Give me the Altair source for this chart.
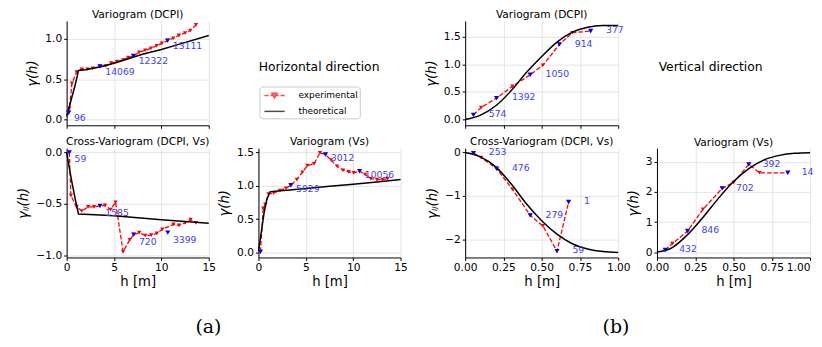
import altair as alt
import pandas as pd

FONT = "DejaVu Sans"

# ---------------- data: (a) horizontal direction ----------------
aTL_exp_h = [0.21, 0.30, 0.56, 1.05, 1.60, 2.20, 2.76, 3.52, 4.10, 4.70, 5.30, 5.95, 6.50, 7.05,
             7.65, 8.30, 8.90, 9.50, 10.05, 10.65, 11.25, 11.85, 12.50, 13.05, 13.65]
aTL_exp_g = [0.086, 0.14, 0.45, 0.59, 0.625, 0.625, 0.635, 0.66, 0.665, 0.70, 0.72, 0.74, 0.77, 0.79,
             0.835, 0.86, 0.885, 0.915, 0.945, 0.98, 1.01, 1.045, 1.075, 1.105, 1.175]
aTL_blue_h = [0.21, 3.52, 7.05, 10.65]
aTL_blue_g = [0.086, 0.66, 0.79, 0.98]
aTL_blue_n = ["96", "14069", "12322", "13111"]
aTL_theo_h = [0.0, 0.3, 0.6, 0.9, 1.1, 1.25, 2.0, 2.5, 3.5, 5.0, 6.5, 8.0, 10.0, 12.0, 15.0]
aTL_theo_g = [0.04, 0.17, 0.30, 0.43, 0.53, 0.61, 0.62, 0.632, 0.652, 0.70, 0.755, 0.81, 0.87, 0.94, 1.043]

aBL_exp_h = [0.28, 0.45, 1.05, 1.60, 2.27, 2.90, 3.52, 4.05, 4.64, 5.16, 5.96, 6.66, 7.08, 7.67,
             8.30, 8.93, 9.52, 10.10, 11.27, 11.86, 12.50, 13.08, 13.64]
aBL_exp_g = [0.0, -0.42, -0.53, -0.57, -0.53, -0.53, -0.52, -0.515, -0.555, -0.485, -0.965, -0.85, -0.80,
             -0.78, -0.81, -0.805, -0.787, -0.748, -0.70, -0.71, -0.685, -0.652, -0.685]
aBL_blue_h = [0.28, 3.52, 7.08, 10.67]
aBL_blue_g = [0.0, -0.52, -0.80, -0.78]
aBL_blue_n = ["59", "1585", "720", "3399"]
aBL_theo_h = [0.0, 0.3, 0.6, 0.9, 1.25, 3.0, 5.0, 7.5, 10.0, 12.5, 15.0]
aBL_theo_g = [0.0, -0.16, -0.31, -0.45, -0.60, -0.607, -0.617, -0.635, -0.655, -0.672, -0.69]

aBR_exp_h = [0.21, 0.50, 0.72, 1.05, 1.60, 2.27, 2.90, 3.42, 4.05, 4.64, 5.16, 5.86, 6.49, 7.08,
             7.67, 8.30, 8.93, 9.52, 10.05, 10.67, 11.27, 11.86, 12.50, 13.08, 13.64]
aBR_exp_g = [0.01, 0.66, 0.72, 0.875, 0.89, 0.925, 0.96, 1.005, 1.09, 1.20, 1.30, 1.325, 1.49, 1.465,
             1.38, 1.29, 1.23, 1.205, 1.19, 1.215, 1.165, 1.105, 1.09, 1.09, 1.105]
aBR_blue_h = [0.21, 3.42, 7.08, 10.67]
aBR_blue_g = [0.01, 1.005, 1.465, 1.215]
aBR_blue_n = ["", "5929", "3012", "10056"]
aBR_theo_h = [0.0, 0.3, 0.6, 0.9, 1.25, 3.0, 5.0, 7.5, 10.0, 12.5, 15.0]
aBR_theo_g = [0.02, 0.30, 0.60, 0.80, 0.91, 0.93, 0.955, 0.99, 1.02, 1.055, 1.09]

# ---------------- data: (b) vertical direction ----------------
bTL_exp_h = [0.054, 0.104, 0.205, 0.309, 0.425, 0.508, 0.616, 0.70, 0.82]
bTL_exp_g = [0.086, 0.217, 0.389, 0.60, 0.81, 0.983, 1.36, 1.57, 1.60]
bTL_blue_h = [0.054, 0.205, 0.425, 0.616, 0.82]
bTL_blue_g = [0.086, 0.389, 0.81, 1.36, 1.60]
bTL_blue_n = ["574", "1392", "1050", "914", "377"]

bBL_exp_h = [0.054, 0.104, 0.205, 0.309, 0.425, 0.508, 0.60, 0.676]
bBL_exp_g = [-0.015, -0.115, -0.37, -0.846, -1.446, -1.69, -2.27, -1.14]
bBL_blue_h = [0.054, 0.205, 0.425, 0.60, 0.676]
bBL_blue_g = [-0.015, -0.37, -1.446, -2.27, -1.14]
bBL_blue_n = ["253", "476", "279", "59", "1"]

bBR_exp_h = [0.054, 0.10, 0.20, 0.30, 0.426, 0.50, 0.60, 0.67, 0.855]
bBR_exp_g = [0.067, 0.28, 0.70, 1.42, 2.12, 2.31, 2.92, 2.64, 2.64]
bBR_blue_h = [0.054, 0.20, 0.426, 0.60, 0.855]
bBR_blue_g = [0.067, 0.70, 2.12, 2.92, 2.64]
bBR_blue_n = ["432", "846", "702", "392", "14"]

b_theo_h = [0.0, 0.1, 0.2, 0.3, 0.4, 0.5, 0.6, 0.7, 0.8, 0.9, 1.0]
bTL_theo_g = [0.0, 0.08, 0.25, 0.52, 0.85, 1.14, 1.40, 1.58, 1.67, 1.70, 1.70]
bBL_theo_g = [0.0, -0.10, -0.33, -0.72, -1.18, -1.57, -1.88, -2.10, -2.22, -2.28, -2.30]
bBR_theo_g = [0.0, 0.15, 0.58, 1.15, 1.78, 2.35, 2.78, 3.07, 3.22, 3.29, 3.31]

SERIES = ["experimental", "theoretical"]
SERIES_STROKE = ["red", "black"]
SERIES_FILL = ["red", "transparent"]
# legend symbols: dashed line with a triangle marker / solid line
SERIES_SHAPE = ["M-1.7,0H-1.0M-0.7,0H0.7M1.0,0H1.7M-0.45,-0.38H0.45L0,0.42Z", "M-1.7,0H1.7"]


def make_legend(lx, ly):
    return alt.Legend(
        title=None, orient="none", legendX=lx, legendY=ly, direction="vertical",
        labelFont=FONT, labelFontSize=9, labelColor="black",
        symbolSize=144, symbolStrokeWidth=1.5, symbolOffset=6.2, labelOffset=17,
        rowPadding=3, padding=2, strokeColor="#cccccc", fillColor="white", cornerRadius=3,
    )


def panel(exp_h, exp_g, blue_h, blue_g, blue_n, theo_h, theo_g, *, title, ytitle,
          xdom, ydom, xticks, xfmt, yticks, yfmt, plot_w, chart_w, height, xlabels,
          ldx, ldy, toff, legend=None, extra=None, interp="linear", last_right=False):
    theo = pd.DataFrame({"h": theo_h, "g": theo_g})
    exp = pd.DataFrame({"h": exp_h, "g": exp_g})
    blue = pd.DataFrame({"h": blue_h, "g": blue_g, "n": blue_n})
    xaxis_kw = dict(values=xticks, format=xfmt, labels=xlabels, grid=True, tickSize=3,
                    labelPadding=2, titlePadding=3, labelFlush=False, labelOverlap=False)
    if last_right:
        xaxis_kw["labelAlign"] = alt.condition(f"datum.value >= {xdom[1]}", alt.value("right"),
                                               alt.value("center"))
    x = alt.X("h:Q",
              scale=alt.Scale(domain=xdom, range=[0, plot_w], nice=False, zero=False),
              axis=alt.Axis(**xaxis_kw),
              title="h [m]" if xlabels else None)
    y = alt.Y("g:Q",
              scale=alt.Scale(domain=ydom, nice=False, zero=False),
              axis=alt.Axis(values=yticks, format=yfmt, grid=True, tickSize=3, labelPadding=2,
                            titlePadding=5, labelFlush=False, labelOverlap=False),
              title=ytitle)
    exp_line = alt.Chart(exp).mark_line(color="red", strokeWidth=1.3, strokeDash=[4.5, 2]).encode(x=x, y=y)
    theo_line = alt.Chart(theo).mark_line(color="black", strokeWidth=1.5, interpolate=interp).encode(x=x, y=y)
    exp_pts = alt.Chart(exp).mark_point(shape="triangle-down", filled=True, color="red", size=18,
                                        opacity=1).encode(x=x, y=y)
    blue_pts = alt.Chart(blue).mark_point(shape="triangle-down", filled=True, color="blue", size=26,
                                          opacity=1).encode(x=x, y=y)
    labels = alt.Chart(blue).mark_text(align="left", baseline="middle", dx=ldx, dy=ldy, font=FONT,
                                       fontSize=9.3, color="#3c3cff").encode(x=x, y=y, text="n:N")
    layers = [exp_line, exp_pts, theo_line, blue_pts, labels]
    if legend is not None:
        empty = pd.DataFrame({"h": pd.Series([], dtype=float), "g": pd.Series([], dtype=float),
                              "series": pd.Series([], dtype=str)})
        key = alt.Chart(empty).mark_point(filled=True).encode(
            x=x, y=y,
            fill=alt.Fill("series:N", scale=alt.Scale(domain=SERIES, range=SERIES_FILL), legend=legend),
            stroke=alt.Stroke("series:N", scale=alt.Scale(domain=SERIES, range=SERIES_STROKE), legend=legend),
            shape=alt.Shape("series:N", scale=alt.Scale(domain=SERIES, range=SERIES_SHAPE), legend=legend),
        )
        layers.append(key)
    if extra is not None:
        layers.append(extra)
    return alt.layer(*layers).properties(
        width=chart_w, height=height,
        title=alt.TitleParams(title, frame="group", anchor="middle", dx=-(chart_w - plot_w) / 2,
                              offset=toff, baseline="alphabetic", fontSize=10.7, fontWeight="normal",
                              font=FONT, color="black"),
    )


def text_cell(label, cx, cy, w, h):
    return alt.Chart(pd.DataFrame({"t": [label]})).mark_text(
        font=FONT, fontSize=12.4, color="black", align="center", baseline="middle"
    ).encode(text="t:N", x=alt.value(cx), y=alt.value(cy)).properties(width=w, height=h)


def corner_label(label, cx, cy):
    return alt.Chart(pd.DataFrame({"t": [label]})).mark_text(
        font="DejaVu Serif", fontSize=19, color="black", align="center", baseline="middle"
    ).encode(text="t:N", x=alt.value(cx), y=alt.value(cy))


H1, H2 = 105, 110
T1, T2 = -8, -9
A_X = dict(xdom=[0, 15], xticks=[0, 5, 10, 15], xfmt="d", plot_w=143, ldx=5.3)
B_X = dict(xdom=[0, 1], xticks=[0, 0.25, 0.5, 0.75, 1.0], xfmt=".2f", plot_w=154, ldy=-0.7,
           interp="monotone")

aTL = panel(aTL_exp_h, aTL_exp_g, aTL_blue_h, aTL_blue_g, aTL_blue_n, aTL_theo_h, aTL_theo_g,
            title="Variogram (DCPI)", ytitle="γ(h)", ydom=[-0.07, 1.224], yticks=[0, 0.5, 1.0],
            yfmt=".1f", chart_w=193, height=H1, xlabels=False, ldy=5.5, toff=T1,
            legend=make_legend(194, 66), **A_X)
aBL = panel(aBL_exp_h, aBL_exp_g, aBL_blue_h, aBL_blue_g, aBL_blue_n, aBL_theo_h, aBL_theo_g,
            title="Cross-Variogram (DCPI, Vs)", ytitle="γᵢⱼ(h)", ydom=[-1.022, 0.042],
            yticks=[-1.0, -0.5, 0.0], yfmt=".1f", chart_w=193, height=H2, xlabels=True, ldy=7, toff=T2,
            extra=corner_label("(a)", 142.7, 180), **A_X)
aBR = panel(aBR_exp_h, aBR_exp_g, aBR_blue_h, aBR_blue_g, aBR_blue_n, aBR_theo_h, aBR_theo_g,
            title="Variogram (Vs)", ytitle="γ(h)", ydom=[-0.075, 1.56], yticks=[0, 0.5, 1.0, 1.5],
            yfmt=".1f", chart_w=208, height=H2, xlabels=True, ldy=4, toff=T2, **A_X)
bTL = panel(bTL_exp_h, bTL_exp_g, bTL_blue_h, bTL_blue_g, bTL_blue_n, b_theo_h, bTL_theo_g,
            title="Variogram (DCPI)", ytitle="γ(h)", ydom=[-0.103, 1.783], yticks=[0, 0.5, 1.0, 1.5],
            yfmt=".1f", chart_w=193, height=H1, xlabels=False, toff=T1, ldx=15.5,
            legend=make_legend(213, 66), **B_X)
bBL = panel(bBL_exp_h, bBL_exp_g, bBL_blue_h, bBL_blue_g, bBL_blue_n, b_theo_h, bBL_theo_g,
            title="Cross-Variogram (DCPI, Vs)", ytitle="γᵢⱼ(h)", ydom=[-2.416, 0.1],
            yticks=[-2, -1, 0], yfmt="d", chart_w=193, height=H2, xlabels=True, toff=T2, ldx=15.5,
            extra=corner_label("(b)", 151.7, 180), **B_X)
bBR = panel(bBR_exp_h, bBR_exp_g, bBR_blue_h, bBR_blue_g, bBR_blue_n, b_theo_h, bBR_theo_g,
            title="Variogram (Vs)", ytitle="γ(h)", ydom=[-0.18, 3.46], yticks=[0, 1, 2, 3],
            yfmt="d", chart_w=154, height=H2, xlabels=True, toff=T2, ldx=14, last_right=True, **B_X)

textA = text_cell("Horizontal direction", 61, 46, 208, H1)
textB = text_cell("Vertical direction", 54, 46, 154, H1)

chart = alt.concat(
    aTL, textA, bTL, textB,
    aBL, aBR, bBL, bBR,
    columns=4, spacing={"row": 23, "column": 0}, align="each", bounds="flush",
).properties(
    padding={"left": 9, "top": 0, "right": 0, "bottom": 0},
).configure_view(stroke=None).configure_axis(
    labelFont=FONT, titleFont=FONT, labelFontSize=10.7, titleFontSize=13.3, titleFontWeight="normal",
    labelColor="black", titleColor="black", domainColor="black", tickColor="black",
    gridColor="#dedede", gridWidth=0.8, domainWidth=1, tickWidth=1,
).configure_axisY(titleFontStyle="italic")

chart.save("out.html", embed_options={"renderer": "svg", "actions": False})
